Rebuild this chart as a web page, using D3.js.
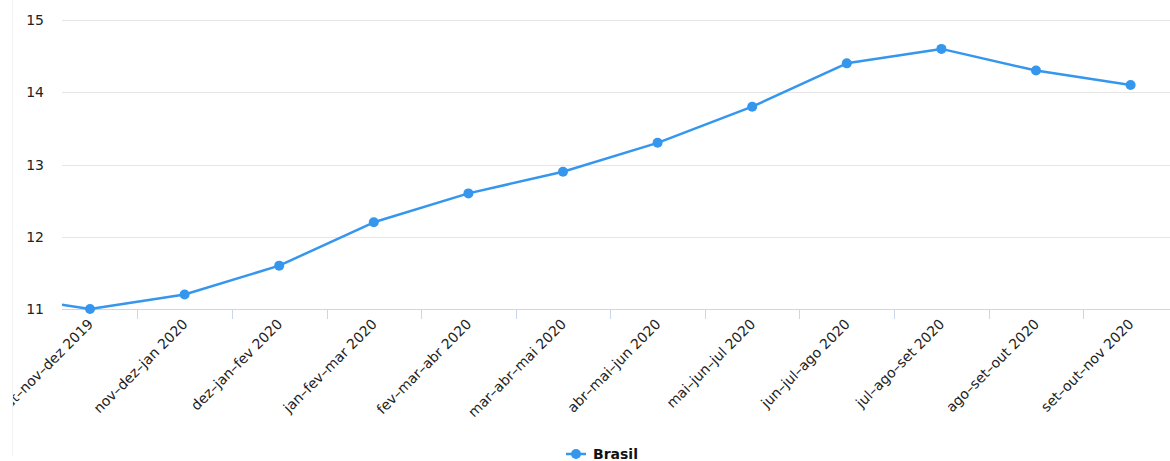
<!DOCTYPE html>
<html>
<head>
<meta charset="utf-8">
<script src="https://cdn.jsdelivr.net/npm/d3@7"></script>
<style>
  html, body { margin: 0; padding: 0; background: #fff; }
  svg { display: block; font-family: "DejaVu Sans", "Lucida Grande", sans-serif; }
</style>
</head>
<body>
<svg id="chart" width="1170" height="461"></svg>
<script>
// Taxa de desocupação (%), trimestres móveis
const categories = [
  "set–out–nov 2019",
  "out–nov–dez 2019",
  "nov–dez–jan 2020",
  "dez–jan–fev 2020",
  "jan–fev–mar 2020",
  "fev–mar–abr 2020",
  "mar–abr–mai 2020",
  "abr–mai–jun 2020",
  "mai–jun–jul 2020",
  "jun–jul–ago 2020",
  "jul–ago–set 2020",
  "ago–set–out 2020",
  "set–out–nov 2020"
];
const brasil = [11.2, 11.0, 11.2, 11.6, 12.2, 12.6, 12.9, 13.3, 13.8, 14.4, 14.6, 14.3, 14.1];
const yTicks = [11, 12, 13, 14, 15];
const seriesName = "Brasil";

const W = 1170, H = 461;
const plot = { left: 62, right: 1170, top: 20, bottom: 309 };
const color = "#3596ee";

const svg = d3.select("#chart");

// the view is scrolled: the first category sits just outside the plot on the left
const step = 94.6;
const x = d3.scaleLinear()
  .domain([1, categories.length - 1])
  .range([90, 90 + step * (categories.length - 2)]);
const y = d3.scaleLinear().domain([11, 15]).range([plot.bottom, plot.top]);

// faint container border on the left
svg.append("line")
  .attr("x1", 12.5).attr("x2", 12.5).attr("y1", 0).attr("y2", H - 5)
  .attr("stroke", "#f2f2f2").attr("stroke-width", 1);

// clip for the labels (container edge) and for the plot area
const defs = svg.append("defs");
defs.append("clipPath").attr("id", "plotClip")
  .append("rect").attr("x", plot.left).attr("y", 0)
  .attr("width", plot.right - plot.left).attr("height", plot.bottom + 10);
defs.append("clipPath").attr("id", "boxClip")
  .append("rect").attr("x", 13).attr("y", 0).attr("width", W - 13).attr("height", H);

// horizontal grid lines
svg.append("g").selectAll("line").data(yTicks.slice(1)).join("line")
  .attr("x1", plot.left).attr("x2", plot.right)
  .attr("y1", d => Math.round(y(d)) + 0.5).attr("y2", d => Math.round(y(d)) + 0.5)
  .attr("stroke", "#e6e6e6").attr("stroke-width", 1);

// y axis labels
svg.append("g").selectAll("text").data(yTicks).join("text")
  .attr("x", 44).attr("y", d => y(d) + 5)
  .attr("text-anchor", "end")
  .attr("font-size", 14).attr("fill", "#222")
  .text(d => d);

// x axis line and ticks between categories
const xAxisG = svg.append("g").attr("clip-path", "url(#plotClip)");
xAxisG.append("line")
  .attr("x1", plot.left).attr("x2", plot.right)
  .attr("y1", plot.bottom + 0.5).attr("y2", plot.bottom + 0.5)
  .attr("stroke", "#ccd6eb").attr("stroke-width", 1);
const tickPos = d3.range(1, categories.length).map(i => i + 0.5);
xAxisG.selectAll("line.tick").data(tickPos).join("line")
  .attr("class", "tick")
  .attr("x1", d => Math.round(x(d)) + 0.5).attr("x2", d => Math.round(x(d)) + 0.5)
  .attr("y1", plot.bottom).attr("y2", plot.bottom + 11)
  .attr("stroke", "#ccd6eb").attr("stroke-width", 1);

// rotated category labels
svg.append("g").attr("clip-path", "url(#boxClip)")
  .selectAll("text").data(categories.map((c, i) => ({ c, i })).slice(1)).join("text")
  .attr("transform", d => `translate(${x(d.i) + 4},${plot.bottom + 16}) rotate(-45)`)
  .attr("text-anchor", "end")
  .attr("font-size", 14).attr("fill", "#222")
  .text(d => d.c);

// series line and markers
const data = brasil.map((v, i) => ({ i, v }));
const g = svg.append("g").attr("clip-path", "url(#plotClip)");
g.append("path")
  .datum(data)
  .attr("fill", "none").attr("stroke", color).attr("stroke-width", 2.5)
  .attr("stroke-linejoin", "round")
  .attr("d", d3.line().x(d => x(d.i)).y(d => y(d.v)));
g.selectAll("circle").data(data).join("circle")
  .attr("cx", d => x(d.i)).attr("cy", d => y(d.v)).attr("r", 5)
  .attr("fill", color);

// legend
const lg = svg.append("g").attr("transform", "translate(566,454)");
lg.append("line").attr("x1", 0).attr("x2", 20).attr("y1", 0).attr("y2", 0)
  .attr("stroke", color).attr("stroke-width", 2.5);
lg.append("circle").attr("cx", 10).attr("cy", 0).attr("r", 5).attr("fill", color);
lg.append("text").attr("x", 27).attr("y", 5)
  .attr("font-size", 14).attr("font-weight", "bold").attr("fill", "#111")
  .text(seriesName);
</script>
</body>
</html>
